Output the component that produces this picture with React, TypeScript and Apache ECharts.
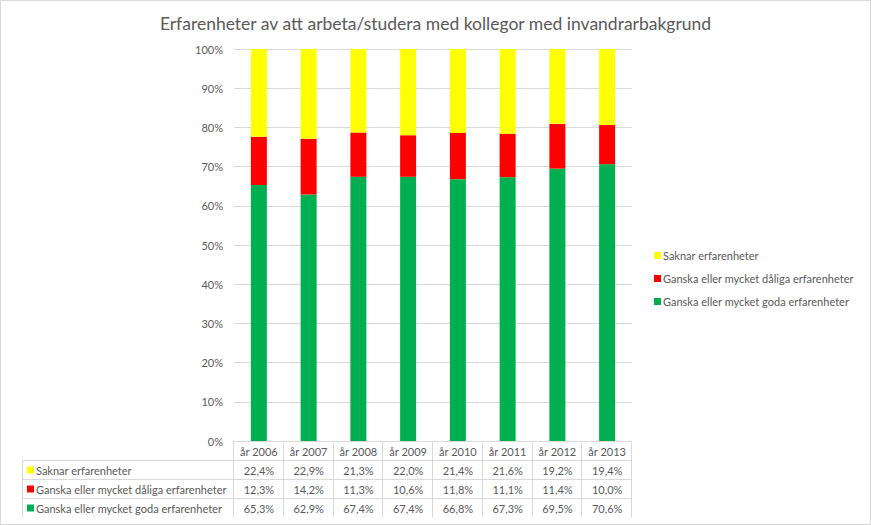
import React, { useEffect, useRef } from "react";
import * as echarts from "echarts";

const years = ["år 2006", "år 2007", "år 2008", "år 2009", "år 2010", "år 2011", "år 2012", "år 2013"];
const saknar = [22.4, 22.9, 21.3, 22.0, 21.4, 21.6, 19.2, 19.4];
const daliga = [12.3, 14.2, 11.3, 10.6, 11.8, 11.1, 11.4, 10.0];
const goda = [65.3, 62.9, 67.4, 67.4, 66.8, 67.3, 69.5, 70.6];
const seriesNames = [
  "Saknar erfarenheter",
  "Ganska eller mycket dåliga erfarenheter",
  "Ganska eller mycket goda erfarenheter",
];
const colors = ["#FFFF00", "#FF0000", "#00B050"];
const title = "Erfarenheter av att arbeta/studera med kollegor med invandrarbakgrund";

const W = 871;
const H = 525;
const FONT = "Lato, 'Open Sans', sans-serif";
const TXT = "#595959";
const LINE = "#d9d9d9";

const gLeft = 234;
const gRight = 632;
const gTop = 49;
const gBottom = 441;
const rowH = 19;
const tableLeft = 22;

const fmt = (v: number) => v.toFixed(1).replace(".", ",") + "%";

export default function App() {
  const ref = useRef<HTMLDivElement>(null);
  useEffect(() => {
    if (!ref.current) return;
    const chart = echarts.init(ref.current, null, { renderer: "svg" });
    const colW = (gRight - gLeft) / years.length;
    const rows = [saknar, daliga, goda];
    const graphics: any[] = [];
    graphics.push({
      type: "rect",
      shape: { x: 0.5, y: 0.5, width: W - 1, height: H - 1 },
      style: { fill: "none", stroke: LINE, lineWidth: 1 },
      silent: true,
    });
    for (let r = 1; r <= 3; r++) {
      const y = gBottom + r * rowH + 0.5;
      graphics.push({
        type: "line",
        shape: { x1: tableLeft, y1: y, x2: gRight, y2: y },
        style: { stroke: LINE, lineWidth: 1 },
        silent: true,
      });
    }
    for (let c = 0; c <= years.length; c++) {
      const x = Math.round(gLeft + c * colW) - 0.5;
      graphics.push({
        type: "line",
        shape: { x1: x, y1: gBottom, x2: x, y2: gBottom + 4 * rowH },
        style: { stroke: LINE, lineWidth: 1 },
        silent: true,
      });
    }
    graphics.push({
      type: "line",
      shape: { x1: tableLeft + 0.5, y1: gBottom + rowH, x2: tableLeft + 0.5, y2: gBottom + 4 * rowH },
      style: { stroke: LINE, lineWidth: 1 },
      silent: true,
    });
    rows.forEach((vals, r) => {
      const cy = gBottom + (r + 1) * rowH + rowH / 2 + 0.5;
      graphics.push({
        type: "rect",
        shape: { x: 27, y: cy - 3.5, width: 7, height: 7 },
        style: { fill: colors[r] },
        silent: true,
      });
      graphics.push({
        type: "text",
        x: 36,
        y: cy,
        style: { text: seriesNames[r], font: `11px ${FONT}`, fill: TXT, verticalAlign: "middle", align: "left" },
        silent: true,
      });
      vals.forEach((v, c) => {
        graphics.push({
          type: "text",
          x: gLeft + (c + 0.5) * colW,
          y: cy,
          style: { text: fmt(v), font: `11px ${FONT}`, fill: TXT, verticalAlign: "middle", align: "center" },
          silent: true,
        });
      });
    });

    const seriesData = [saknar, daliga, goda];
    const series = [2, 1, 0].map((i) => ({
      name: seriesNames[i],
      type: "bar",
      stack: "total",
      barWidth: 16,
      data: seriesData[i],
      itemStyle: { color: colors[i] },
    }));

    chart.setOption({
      animation: false,
      title: {
        text: title,
        left: "center",
        top: 9,
        textStyle: { fontFamily: FONT, fontSize: 17.5, fontWeight: "normal", color: TXT },
      },
      grid: { left: gLeft, right: W - gRight, top: gTop, bottom: H - gBottom, containLabel: false },
      legend: {
        orient: "vertical",
        left: 649,
        top: 245,
        itemWidth: 7,
        itemHeight: 7,
        itemGap: 12,
        icon: "rect",
        data: seriesNames,
        textStyle: { fontFamily: FONT, fontSize: 11, color: TXT, padding: [0, 0, 0, -3] },
      },
      xAxis: {
        type: "category",
        data: years,
        axisLine: { show: true, lineStyle: { color: LINE } },
        axisTick: { show: false },
        axisLabel: { margin: 5, fontFamily: FONT, fontSize: 11, color: TXT },
      },
      yAxis: {
        type: "value",
        min: 0,
        max: 100,
        interval: 10,
        axisLabel: { formatter: (v: number) => v + "%", fontFamily: FONT, fontSize: 11, color: TXT, margin: 11 },
        splitLine: { lineStyle: { color: LINE } },
        axisLine: { show: false },
        axisTick: { show: false },
      },
      graphic: graphics,
      series,
    });
    return () => chart.dispose();
  }, []);
  return <div ref={ref} style={{ width: W, height: H, position: "absolute", left: 0, top: 0 }} />;
}
